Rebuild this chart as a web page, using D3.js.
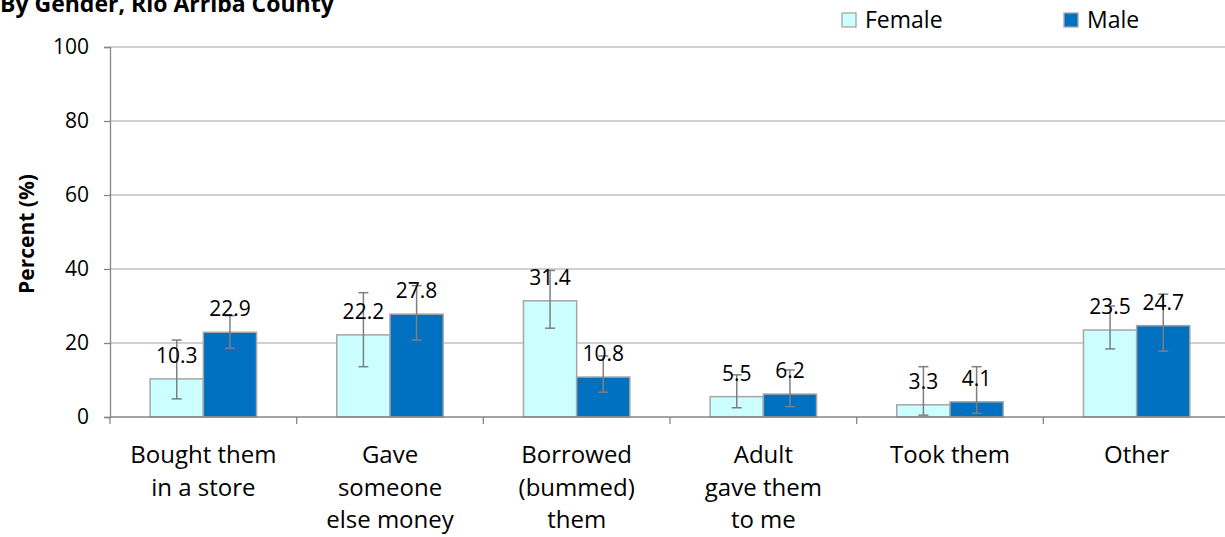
<!DOCTYPE html>
<html>
<head>
<meta charset="utf-8">
<script src="https://cdn.jsdelivr.net/npm/d3@7"></script>
<style>
  body { margin: 0; background: #fff; }
  svg { display: block; font-family: "Open Sans", sans-serif; }
</style>
</head>
<body>
<svg id="chart" width="1225" height="537"></svg>
<script>
// categories, each label split in lines as on the original
var categories = [
    ["Bought them", "in a store"],
    ["Gave", "someone", "else money"],
    ["Borrowed", "(bummed)", "them"],
    ["Adult", "gave them", "to me"],
    ["Took them"],
    ["Other"]
];
var series = ["Female", "Male"];
var female = [10.3, 22.2, 31.4, 5.5, 3.3, 23.5];
var male = [22.9, 27.8, 10.8, 6.2, 4.1, 24.7];
// confidence intervals (low, high)
var femaleLow = [4.9, 13.6, 24.0, 2.5, 0.5, 18.4];
var femaleHigh = [20.8, 33.6, 39.6, 11.4, 13.6, 30.0];
var maleLow = [18.6, 20.8, 6.7, 2.8, 1.0, 17.8];
var maleHigh = [27.4, 35.5, 16.5, 12.7, 13.6, 33.2];
var yTicks = [0, 20, 40, 60, 80, 100];

(function () {

    var colors = { Female: "#ccffff", Male: "#0070c0" };

    var svg = d3.select("#chart");
    var left = 110, right = 1230, plotTop = 47, plotBottom = 417;

    var x = d3.scaleBand()
        .domain(d3.range(categories.length))
        .range([left, right])
        .padding(0);
    var bw = x.bandwidth();
    var xs = d3.scaleBand()
        .domain(series)
        .range([bw * 0.215, bw * 0.785])
        .padding(0);
    var y = d3.scaleLinear().domain([0, 100]).range([plotBottom, plotTop]);

    // title (partly cut off at the top, as in the original)
    svg.append("text")
        .attr("x", 0)
        .attr("y", 12)
        .attr("font-weight", "bold")
        .attr("font-size", 23)
        .attr("fill", "#000")
        .text("By Gender, Rio Arriba County");

    // gridlines
    svg.append("g")
        .selectAll("line")
        .data(yTicks.slice(1))
        .enter().append("line")
        .attr("x1", left)
        .attr("x2", 1225)
        .attr("y1", function(d) { return y(d); })
        .attr("y2", function(d) { return y(d); })
        .attr("stroke", "#c0c0c0")
        .attr("stroke-width", 1.3);

    // y axis
    var yAxis = d3.axisLeft(y).tickValues(yTicks).tickSize(6).tickPadding(15);
    var gy = svg.append("g")
        .attr("transform", "translate(" + left + ",0)")
        .call(yAxis);
    gy.select(".domain").attr("stroke", "#868686").attr("stroke-width", 1.3);
    gy.selectAll(".tick line").attr("stroke", "#868686").attr("stroke-width", 1.3);
    gy.selectAll(".tick text")
        .attr("font-size", 21)
        .attr("font-family", "Open Sans, sans-serif")
        .attr("fill", "#000");

    svg.append("text")
        .attr("transform", "translate(34,234) rotate(-90)")
        .attr("text-anchor", "middle")
        .attr("font-weight", "bold")
        .attr("font-size", 21)
        .attr("fill", "#000")
        .text("Percent (%)");

    // bars
    var rows = categories.map(function(c, i) {
        return [
            { key: "Female", value: female[i], lo: femaleLow[i], hi: femaleHigh[i] },
            { key: "Male", value: male[i], lo: maleLow[i], hi: maleHigh[i] }
        ];
    });

    var groups = svg.append("g")
        .selectAll("g")
        .data(rows)
        .enter().append("g")
        .attr("transform", function(d, i) { return "translate(" + x(i) + ",0)"; });

    groups.selectAll("rect")
        .data(function(d) { return d; })
        .enter().append("rect")
        .attr("x", function(d) { return xs(d.key); })
        .attr("y", function(d) { return y(d.value); })
        .attr("width", xs.bandwidth())
        .attr("height", function(d) { return y(0) - y(d.value); })
        .attr("fill", function(d) { return colors[d.key]; })
        .attr("stroke", "#a6a6a6")
        .attr("stroke-width", 1.5);

    // error bars
    var err = groups.selectAll("g.err")
        .data(function(d) { return d; })
        .enter().append("g")
        .attr("class", "err")
        .attr("stroke", "#7f7f7f")
        .attr("stroke-width", 1.5);

    function cx(d) { return xs(d.key) + xs.bandwidth() / 2; }

    err.append("line")
        .attr("x1", cx)
        .attr("x2", cx)
        .attr("y1", function(d) { return y(d.lo); })
        .attr("y2", function(d) { return y(d.hi); });
    ["lo", "hi"].forEach(function(k) {
        err.append("line")
            .attr("x1", function(d) { return cx(d) - 5; })
            .attr("x2", function(d) { return cx(d) + 5; })
            .attr("y1", function(d) { return y(d[k]); })
            .attr("y2", function(d) { return y(d[k]); });
    });

    // value labels
    groups.selectAll("text.val")
        .data(function(d) { return d; })
        .enter().append("text")
        .attr("class", "val")
        .attr("x", cx)
        .attr("y", function(d) { return y(d.value) - 16; })
        .attr("text-anchor", "middle")
        .attr("font-size", 21)
        .attr("fill", "#000")
        .text(function(d) { return d.value.toFixed(1); });

    // x axis
    svg.append("line")
        .attr("x1", left)
        .attr("x2", 1225)
        .attr("y1", y(0))
        .attr("y2", y(0))
        .attr("stroke", "#868686")
        .attr("stroke-width", 1.3);
    svg.append("g")
        .selectAll("line")
        .data(d3.range(categories.length + 1))
        .enter().append("line")
        .attr("x1", function(i) { return left + i * bw; })
        .attr("x2", function(i) { return left + i * bw; })
        .attr("y1", y(0))
        .attr("y2", y(0) + 7)
        .attr("stroke", "#868686")
        .attr("stroke-width", 1.3);

    var labels = svg.append("g")
        .selectAll("text")
        .data(categories)
        .enter().append("text")
        .attr("text-anchor", "middle")
        .attr("font-size", 24)
        .attr("fill", "#000")
        .attr("transform", function(d, i) { return "translate(" + (x(i) + bw / 2) + ",463)"; });
    labels.selectAll("tspan")
        .data(function(d) { return d; })
        .enter().append("tspan")
        .attr("x", 0)
        .attr("y", function(d, j) { return j * 32.5; })
        .text(function(d) { return d; });

    // legend
    var legendX = { Female: 842, Male: 1064 };
    var legend = svg.append("g")
        .selectAll("g")
        .data(series)
        .enter().append("g")
        .attr("transform", function(d) { return "translate(" + legendX[d] + ",13)"; });
    legend.append("rect")
        .attr("width", 14)
        .attr("height", 14)
        .attr("fill", function(d) { return colors[d]; })
        .attr("stroke", "#a6a6a6")
        .attr("stroke-width", 1.3);
    legend.append("text")
        .attr("x", 23)
        .attr("y", 15)
        .attr("font-size", 23)
        .attr("fill", "#000")
        .text(function(d) { return d; });
})();
</script>
</body>
</html>
